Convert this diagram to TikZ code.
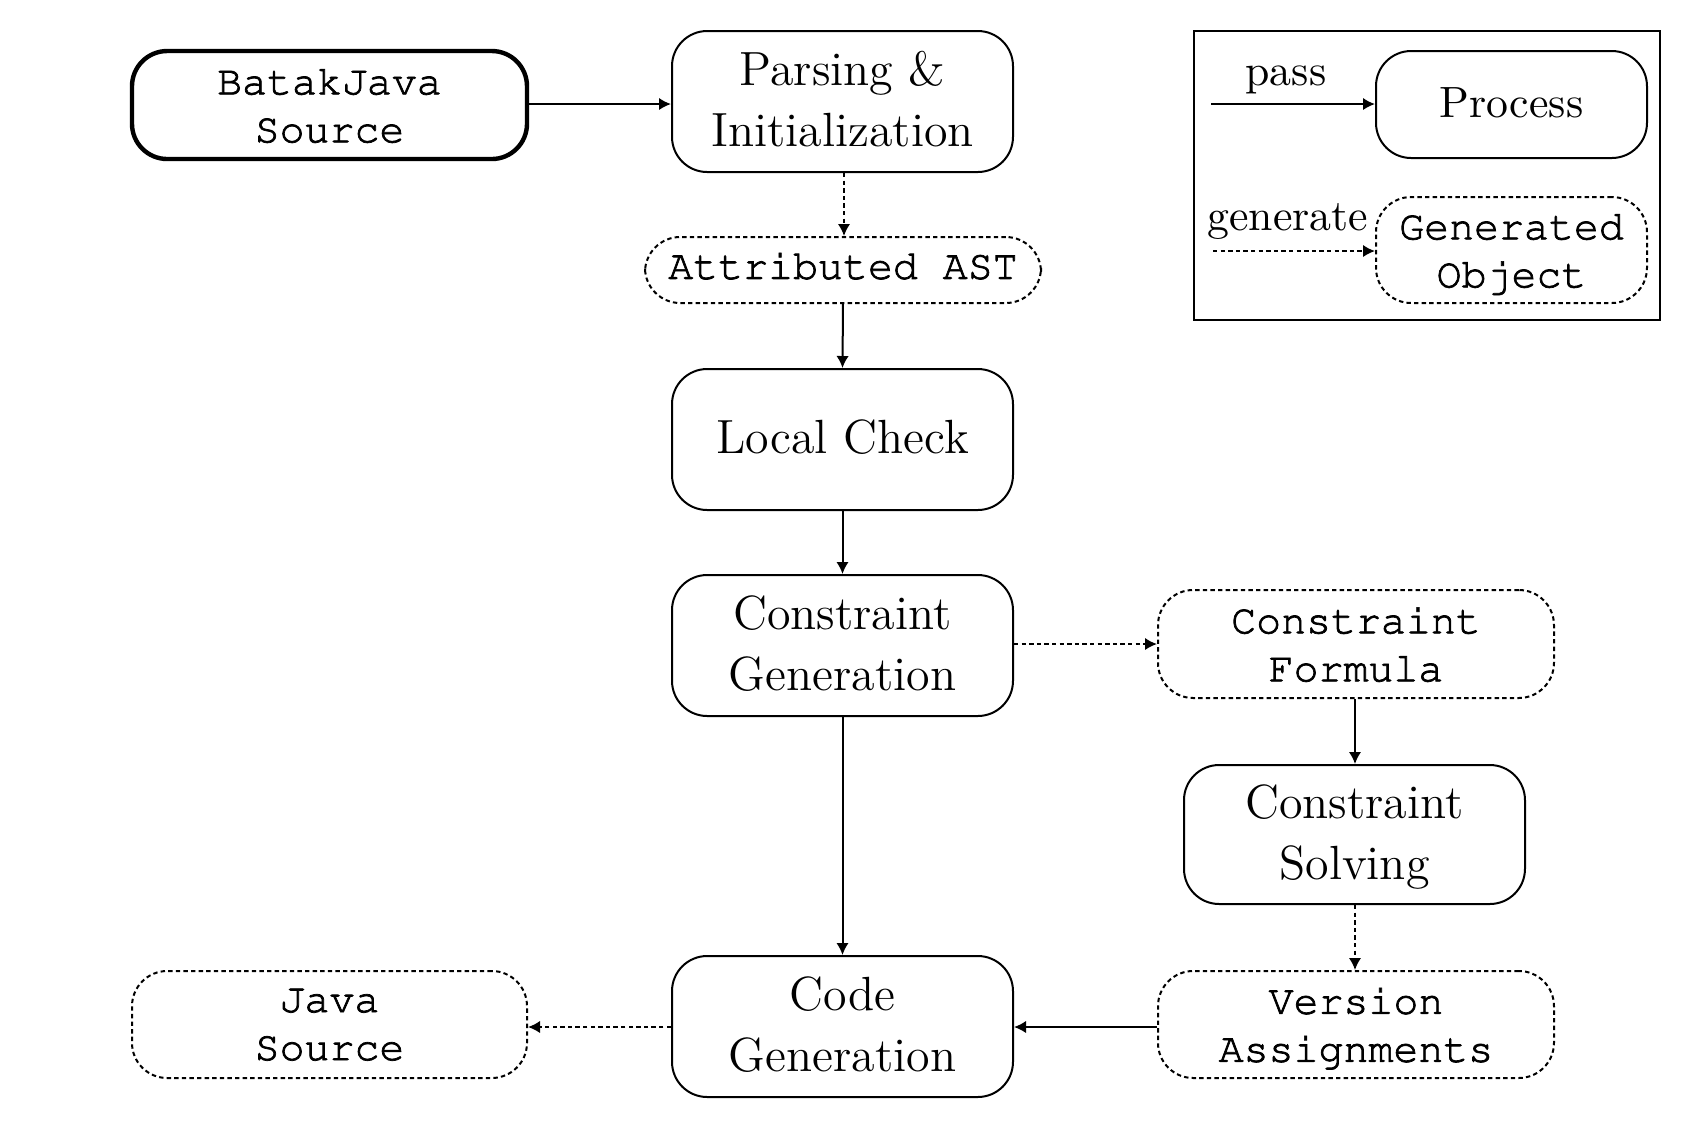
\documentclass[tikz,border=0pt]{standalone}
\usepackage[T1,TU]{fontenc}
\usetikzlibrary{arrows.meta}
\newdimen\pxu
\pxu=0.25pt
\newcommand\courfont{\fontencoding{T1}\fontfamily{pcr}\fontseries{m}\fontshape{n}\fontsize{10.4}{12}\selectfont\special{pdf:literal direct 2 Tr 0.18 w}}
\begin{document}
\begin{tikzpicture}[x=0.25pt,y=-0.25pt,
  proc/.style={draw,line width=0.5pt,rounded corners=8.8pt,align=center,inner sep=0pt,
    text depth=1.4pt,font=\fontsize{12}{15.3}\selectfont},
  obj/.style={draw,line width=0.5pt,rounded corners=8.8pt,align=center,inner sep=0pt,
    text depth=0pt,dash pattern=on 1.1pt off 0.8pt,font=\courfont},
  passarr/.style={line width=0.5pt,-{Latex[length=3pt,width=3.1pt]}},
  genarr/.style={line width=0.5pt,dash pattern=on 1.1pt off 0.8pt,-{Latex[length=3pt,width=3.1pt]}},
  lbl/.style={inner sep=0pt,font=\fontsize{10.95}{13}\selectfont}
]
\useasboundingbox (0,0) rectangle (1686,1128);
% main flow
\node[obj,solid,line width=1.1pt,minimum width=395\pxu,minimum height=108\pxu] (src) at (329.5,105) {BatakJava\\Source};
\node[proc,minimum width=341\pxu,minimum height=141\pxu] (parse) at (842.5,101.5) {Parsing \&\\Initialization};
\node[obj,text depth=2.2pt,minimum width=396\pxu,minimum height=66\pxu] (ast) at (843,270) {Attributed AST};
\node[proc,minimum width=341\pxu,minimum height=141\pxu] (local) at (842.5,439.5) {Local Check};
\node[proc,minimum width=341\pxu,minimum height=141\pxu] (cgen) at (842.5,645.5) {Constraint\\Generation};
\node[obj,minimum width=396\pxu,minimum height=108\pxu] (cform) at (1356,644) {Constraint\\Formula};
\node[proc,minimum width=341\pxu,minimum height=139\pxu] (csolve) at (1354.5,834.5) {Constraint\\Solving};
\node[obj,minimum width=396\pxu,minimum height=107\pxu] (vass) at (1356,1024.5) {Version\\Assignments};
\node[proc,minimum width=341\pxu,minimum height=141\pxu] (codegen) at (842.5,1026.5) {Code\\Generation};
\node[obj,minimum width=395\pxu,minimum height=107\pxu] (jsrc) at (329.5,1024.5) {Java\\Source};
% connectors
\draw[passarr] (src.east |- 0,104) -- (parse.west |- 0,104);
\draw[genarr] (parse.south -| 844,0) -- (ast.north -| 844,0);
\draw[passarr] (ast.south) -- (local.north);
\draw[passarr] (local.south) -- (cgen.north);
\draw[genarr] (cgen.east |- 0,644) -- (cform.west |- 0,644);
\draw[passarr] (cform.south -| 1355,0) -- (csolve.north -| 1355,0);
\draw[genarr] (csolve.south -| 1355,0) -- (vass.north -| 1355,0);
\draw[passarr] (cgen.south) -- (codegen.north);
\draw[passarr] (vass.west |- 0,1027) -- (codegen.east |- 0,1027);
\draw[genarr] (codegen.west |- 0,1027) -- (jsrc.east |- 0,1027);
% legend
\node[draw,line width=0.5pt,minimum width=466\pxu,minimum height=289\pxu,inner sep=0pt] (legend) at (1427,175.5) {};
\node[proc,text depth=1pt,font=\fontsize{10.95}{13}\selectfont,minimum width=271\pxu,minimum height=107\pxu] (lproc) at (1511.5,104.5) {Process};
\node[obj,minimum width=271\pxu,minimum height=106\pxu] (lobj) at (1511.5,250) {Generated\\Object};
\coordinate (pstart) at (1211,104);
\coordinate (gstart) at (1213,251);
\draw[passarr] (pstart) -- (lproc.west |- pstart);
\draw[genarr] (gstart) -- (lobj.west |- gstart);
\node[lbl] (plabel) at (1286,79.5) {pass};
\node[lbl] (glabel) at (1288,222) {generate};
\end{tikzpicture}
\end{document}
